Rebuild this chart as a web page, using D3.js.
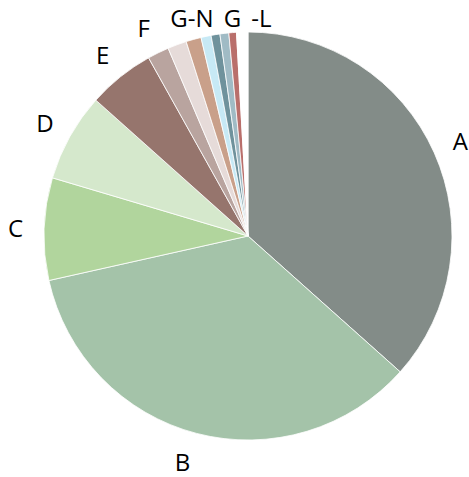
<!DOCTYPE html>
<html><head><meta charset="utf-8">
<script src="https://cdn.jsdelivr.net/npm/d3@7"></script>
<style>html,body{margin:0;padding:0;background:#fff;}</style>
</head><body>
<svg id="chart" width="469" height="477"></svg>
<script>
const categories = ["A","B","C","D","E","F","G","H","I","J","K","L","M"];
const values = [36.6,34.9,8.1,7.0,5.3,1.7,1.5,1.2,0.8,0.7,0.7,0.6,0.9];
const labels = ["A","B","C","D","E","F","","G-N","","","","G","-L"];
const colors = ["#838c88","#a4c3a9","#b1d59d","#d5e8cc","#96756d","#b9a49f","#e6dbd9","#c9a08a","#c7e9f5","#6f929c","#a0bbc5","#b96f6b","#ffffff"];

const svg = d3.select("#chart");
const cx = 248, cy = 236, r = 204;
const g = svg.append("g").attr("transform", `translate(${cx},${cy})`);
const data = categories.map((c,i)=>({cat:c, value:values[i], label:labels[i], color:colors[i]}));
const pie = d3.pie().value(d=>d.value).sort(null);
const arc = d3.arc().innerRadius(0).outerRadius(r);
const arcs = pie(data);
g.selectAll("path").data(arcs).enter().append("path")
  .attr("d", arc).attr("fill", d=>d.data.color)
  .attr("stroke", "#fff").attr("stroke-width", 0.8);

const labelArc = d3.arc().innerRadius(r*1.14).outerRadius(r*1.14);
const nudge = {"-L": [20,0], "G-N": [6,0], "G": [2,0], "B": [-7,0], "F": [-2,0]};
g.selectAll("text").data(arcs.filter(d=>d.data.label)).enter().append("text")
  .attr("transform", d=>{
    const c = labelArc.centroid(d);
    const n = nudge[d.data.label] || [0,0];
    const y = Math.max(c[1], -219);
    return `translate(${c[0] + n[0]},${y + n[1]})`;})
  .attr("text-anchor","middle").attr("dominant-baseline","central")
  .style("font-family","'Open Sans', sans-serif").style("font-size","24px").attr("fill","#000")
  .text(d=>d.data.label);
</script>
</body></html>
